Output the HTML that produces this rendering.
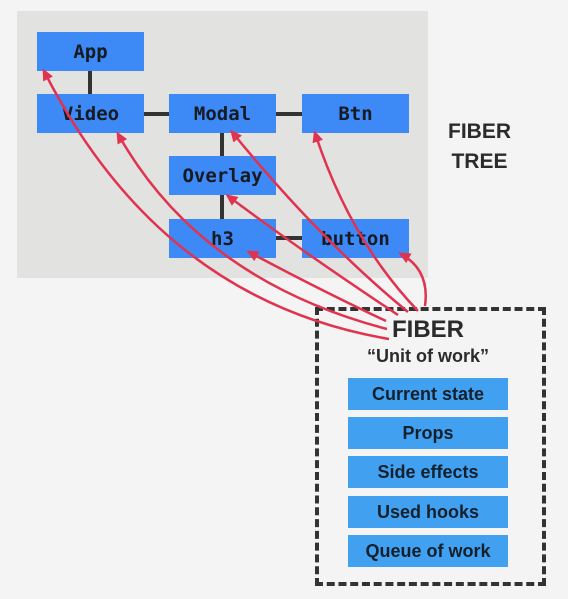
<!DOCTYPE html>
<html><head><style>
body{margin:0;width:568px;height:599px;background:#f4f4f4;position:relative;overflow:hidden;font-family:"Liberation Sans",sans-serif}
.bg{position:absolute;left:17px;top:11px;width:411px;height:267px;background:#e2e2e1}
.n{position:absolute;width:107px;height:39px;background:#3d8af7;font-family:"DejaVu Sans Mono","Liberation Mono",monospace;font-weight:bold;font-size:19px;color:#161a22;display:flex;align-items:center;justify-content:center}
.f{position:absolute;left:348px;width:160px;height:32px;background:#42a0f0;color:#14202c;font-weight:bold;font-size:18px;display:flex;align-items:center;justify-content:center}
.t{position:absolute;font-weight:bold;color:#2b2b2b;text-align:center}
</style></head><body>
<div class="bg"></div>
<svg style="position:absolute;left:0;top:0" width="568" height="599">
<g stroke="#333" stroke-width="4">
<line x1="90" y1="71" x2="90" y2="94"/><line x1="143" y1="114" x2="169" y2="114"/>
<line x1="276" y1="114" x2="302" y2="114"/><line x1="222" y1="133" x2="222" y2="156"/>
<line x1="222" y1="195" x2="222" y2="219"/><line x1="276" y1="238" x2="302" y2="238"/>
</g>
</svg>
<div class="n" style="left:37px;top:32px">App</div>
<div class="n" style="left:37px;top:94px">Video</div>
<div class="n" style="left:169px;top:94px">Modal</div>
<div class="n" style="left:302px;top:94px">Btn</div>
<div class="n" style="left:169px;top:156px">Overlay</div>
<div class="n" style="left:169px;top:219px">h3</div>
<div class="n" style="left:302px;top:219px">button</div>
<div class="t" style="left:448px;top:117px;font-size:21px;line-height:30px">FIBER<br>TREE</div>
<div style="position:absolute;left:315px;top:307px;width:223px;height:271px;border:4px dashed #333"></div>
<div class="t" style="left:328px;top:316px;width:200px;font-size:24px">FIBER</div>
<div class="t" style="left:328px;top:346px;width:200px;font-size:18px">“Unit of work”</div>
<div class="f" style="top:378px">Current state</div>
<div class="f" style="top:417px">Props</div>
<div class="f" style="top:456px">Side effects</div>
<div class="f" style="top:496px">Used hooks</div>
<div class="f" style="top:535px">Queue of work</div>
<svg style="position:absolute;left:0;top:0" width="568" height="599">
<defs><marker id="a" markerWidth="12" markerHeight="11" refX="9" refY="5.5" orient="auto" markerUnits="userSpaceOnUse"><path d="M0,0 L12,5.5 L0,11 Z" fill="#e0334f"/></marker></defs>
<g stroke="#e0334f" stroke-width="2.5" fill="none" marker-end="url(#a)">
<path d="M389,339 Q160,300 44,71"/>
<path d="M387,329 Q200,280 118,134"/>
<path d="M386,321 Q320,290 249,252"/>
<path d="M398,315 Q300,250 228,196"/>
<path d="M408,312 Q320,240 232,132"/>
<path d="M418,311 Q350,240 315,133"/>
<path d="M425,306 Q430,270 401,254"/>
</g></svg>
</body></html>
